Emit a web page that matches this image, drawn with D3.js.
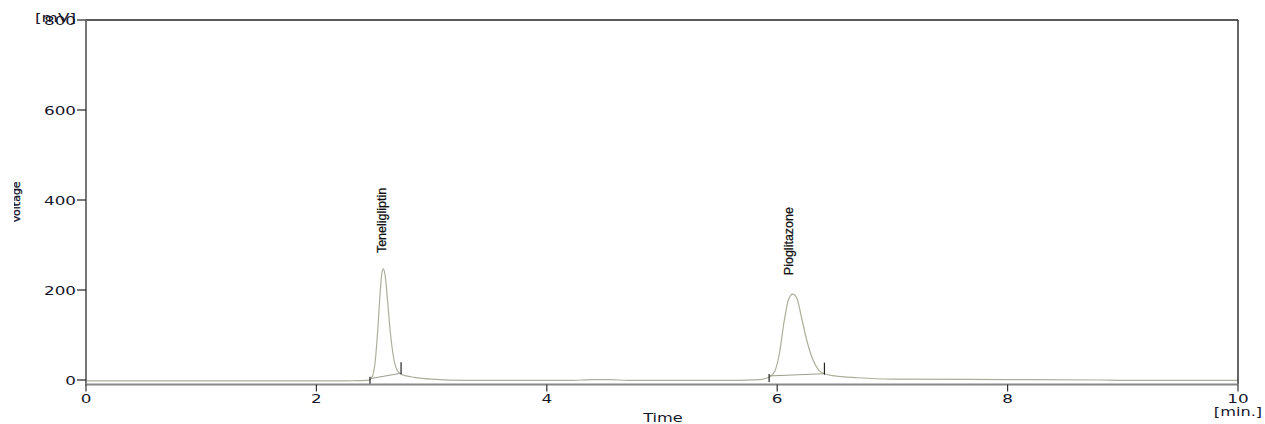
<!DOCTYPE html>
<html>
<head>
<meta charset="utf-8">
<script src="https://cdn.jsdelivr.net/npm/d3@7"></script>
<style>
  body { margin: 0; background: #fff; }
  svg { display: block; }
  text { font-family: "DejaVu Sans", sans-serif; fill: #16162a; }
  text.peak { font-family: "Liberation Sans", Arial, sans-serif; fill: #111; }
</style>
</head>
<body>
<svg id="chart" width="1265" height="424"></svg>
<script>
// chromatogram trace, time [min] / signal [mV]
const traceTime = [0, 1.0, 2.2, 2.35, 2.45, 2.48, 2.51, 2.535, 2.555, 2.57, 2.58, 2.595, 2.615, 2.64, 2.67, 2.7, 2.73,
  2.78, 2.85, 3.0, 3.3, 4.2, 4.4, 4.55, 4.7, 5.5, 5.85, 5.93, 5.98, 6.02, 6.06, 6.1, 6.135, 6.17, 6.21, 6.26,
  6.31, 6.36, 6.41, 6.5, 6.7, 7.0, 8.0, 8.8, 9.0, 10];
const traceSignal = [-2, -2, -2, -1.5, -1, 5, 40, 120, 200, 240, 247, 235, 185, 110, 50, 22, 14,
  9, 6, 2, -1, -1, 1, 1, -1, -1, 1, 6, 20, 60, 130, 180, 191, 182, 140, 85,
  45, 22, 14, 9, 5, 2, 1, 0, -1, -1];

// peaks: name, apex, integration start/end with baseline values
const peakNames = ["Teneligliptin", "Pioglitazone"];
const peakLabelTime = [2.565, 6.1];
const peakLabelBase = [282, 233]; // mV level where the rotated label starts
const peakStart = [2.465, 5.93];
const peakEnd = [2.735, 6.41];
const peakStartVal = [3, 9];
const peakEndVal = [15, 14];

const xTicks = [0, 2, 4, 6, 8, 10];
const yTicks = [0, 200, 400, 600, 800];

const svg = d3.select("#chart");
const plotLeft = 86, plotRight = 1238, plotTop = 20, axisY = 384.5;

const x = d3.scaleLinear().domain([0, 10]).range([plotLeft, plotRight]);
const y = d3.scaleLinear().domain([0, 800]).range([380, plotTop]);

const stretch = 1.4;

// trace
const trace = traceTime.map((t, i) => [t, traceSignal[i]]);
svg.append("path")
  .datum(trace)
  .attr("fill", "none")
  .attr("stroke", "#aeae9c")
  .attr("stroke-width", 1.2)
  .attr("d", d3.line().x(d => x(d[0])).y(d => y(d[1])).curve(d3.curveMonotoneX));

// integration baselines and markers
peakNames.forEach((name, i) => {
  svg.append("line")
    .attr("x1", x(peakStart[i])).attr("y1", y(peakStartVal[i]))
    .attr("x2", x(peakEnd[i])).attr("y2", y(peakEndVal[i]))
    .attr("stroke", "#9c9c8c").attr("stroke-width", 1);
  svg.append("line")
    .attr("x1", x(peakStart[i])).attr("x2", x(peakStart[i]))
    .attr("y1", y(peakStartVal[i]) - 2).attr("y2", y(peakStartVal[i]) + 6)
    .attr("stroke", "#222").attr("stroke-width", 1.2);
  svg.append("line")
    .attr("x1", x(peakEnd[i])).attr("x2", x(peakEnd[i]))
    .attr("y1", y(peakEndVal[i]) - 11).attr("y2", y(peakEndVal[i]) + 1)
    .attr("stroke", "#222").attr("stroke-width", 1.2);

  svg.append("text")
    .attr("class", "peak")
    .attr("transform", `translate(${x(peakLabelTime[i]) + 4.5},${y(peakLabelBase[i])}) rotate(-90)`)
    .attr("font-size", 12.5)
    .attr("stroke", "#111")
    .attr("stroke-width", 0.25)
    .text(name);
});

// frame: grey left/bottom axes, black top/right
svg.append("line").attr("x1", plotLeft).attr("x2", plotRight).attr("y1", plotTop).attr("y2", plotTop)
  .attr("stroke", "#222").attr("stroke-width", 1.5);
svg.append("line").attr("x1", plotRight).attr("x2", plotRight).attr("y1", plotTop).attr("y2", axisY)
  .attr("stroke", "#333").attr("stroke-width", 1.5);
svg.append("line").attr("x1", plotLeft).attr("x2", plotLeft).attr("y1", plotTop).attr("y2", axisY + 1)
  .attr("stroke", "#777").attr("stroke-width", 2);
svg.append("line").attr("x1", plotLeft).attr("x2", plotRight).attr("y1", axisY).attr("y2", axisY)
  .attr("stroke", "#888").attr("stroke-width", 2);

// y ticks
const yAxis = svg.append("g");
yTicks.forEach(v => {
  yAxis.append("line").attr("x1", plotLeft - 9).attr("x2", plotLeft).attr("y1", y(v)).attr("y2", y(v))
    .attr("stroke", "#222").attr("stroke-width", 1.2);
  yAxis.append("text")
    .attr("transform", `translate(${plotLeft - 10},${y(v) + 4.5}) scale(${stretch},1)`)
    .attr("text-anchor", "end")
    .attr("font-size", 12)
    .text(v);
});

// x ticks
const xAxis = svg.append("g");
xTicks.forEach(v => {
  xAxis.append("line").attr("x1", x(v)).attr("x2", x(v)).attr("y1", axisY).attr("y2", axisY + 7)
    .attr("stroke", "#333").attr("stroke-width", 1.2);
  xAxis.append("text")
    .attr("transform", `translate(${x(v)},403) scale(${stretch},1)`)
    .attr("text-anchor", "middle")
    .attr("font-size", 12)
    .text(v);
});

// axis titles
svg.append("text")
  .attr("transform", `translate(${plotLeft - 10},22) scale(${stretch},1)`)
  .attr("text-anchor", "end")
  .attr("font-size", 12)
  .text("[mV]");

svg.append("text")
  .attr("transform", `translate(663,422) scale(1.35,1)`)
  .attr("text-anchor", "middle")
  .attr("font-size", 12)
  .text("Time");

svg.append("text")
  .attr("transform", `translate(${plotRight},416) scale(1.35,1)`)
  .attr("text-anchor", "middle")
  .attr("font-size", 12)
  .text("[min.]");

// y title, its top cut off at the left edge as in the original
svg.append("clipPath").attr("id", "vclip")
  .append("rect").attr("x", 14).attr("y", 150).attr("width", 12).attr("height", 100);
svg.append("g")
  .attr("clip-path", "url(#vclip)")
  .append("text")
  .attr("transform", "translate(20,202) rotate(-90)")
  .attr("text-anchor", "middle")
  .attr("font-size", 11)
  .attr("stroke", "#16162a")
  .attr("stroke-width", 0.3)
  .text("Voltage");
</script>
</body>
</html>
